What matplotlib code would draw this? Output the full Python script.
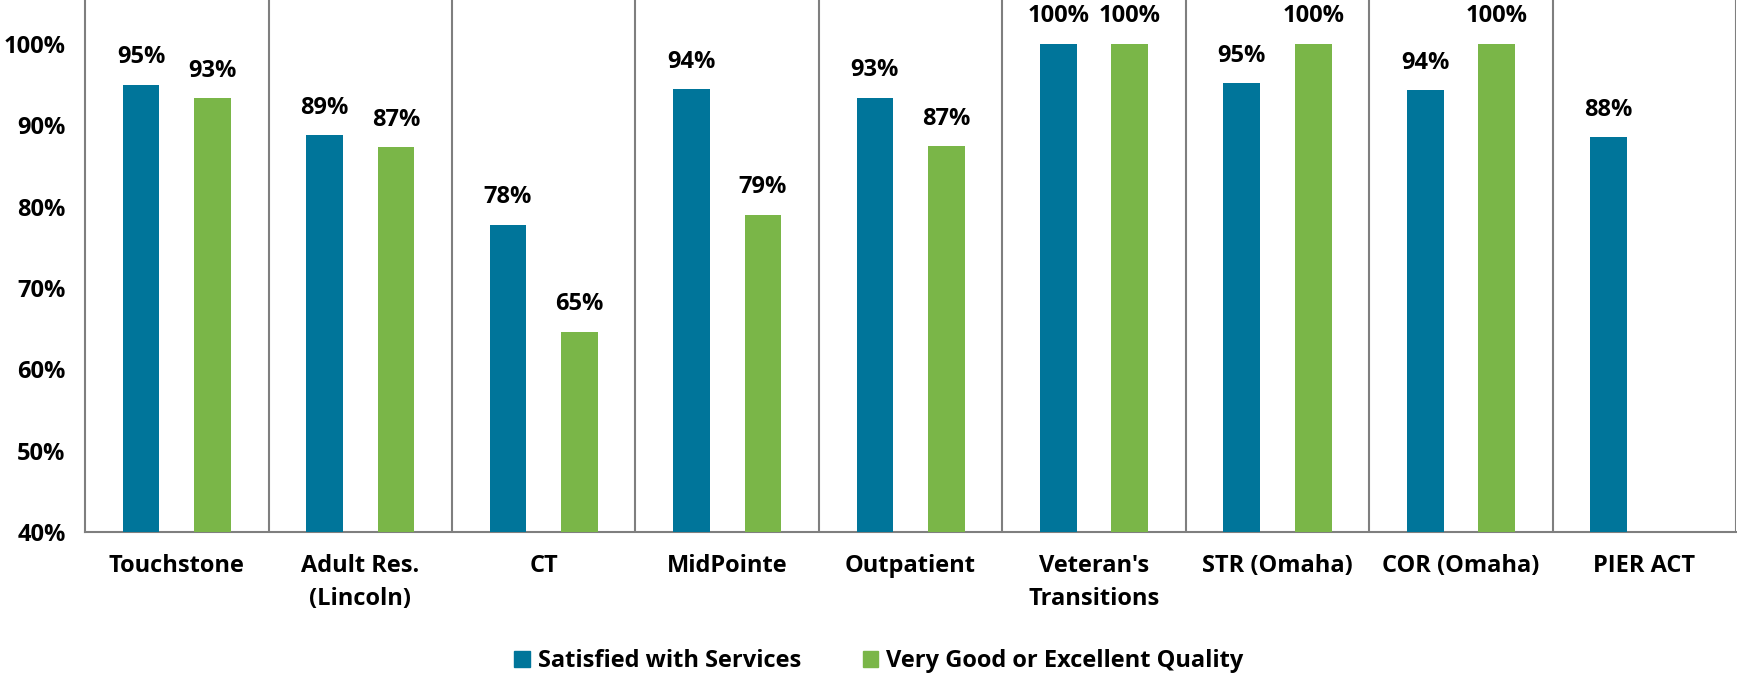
import matplotlib
matplotlib.use("Agg")
import matplotlib.pyplot as plt
import numpy as np
from matplotlib.patches import Patch

categories = ["Touchstone", "Adult Res.\n(Lincoln)", "CT", "MidPointe", "Outpatient",
              "Veteran's\nTransitions", "STR (Omaha)", "COR (Omaha)", "PIER ACT"]
satisfied = [95.0, 88.8, 77.8, 94.4, 93.4, 100.0, 95.2, 94.3, 88.5]
quality = [93.3, 87.3, 64.6, 79.0, 87.4, 100.0, 100.0, 100.0, np.nan]
series_names = ["Satisfied with Services", "Very Good or Excellent Quality"]
yticks = [40, 50, 60, 70, 80, 90, 100]

blue = "#00759A"
green = "#7AB648"
grey = "#7F7F7F"

plt.rcParams['font.family'] = ['Open Sans', 'DejaVu Sans']

fig = plt.figure(figsize=(17.37, 6.76), dpi=100)
ax = fig.add_axes([0.049, 0.213, 0.9505, 0.787])

x = np.arange(len(categories))
w = 0.2
off = 0.195
ax.bar(x - off, satisfied, width=w, color=blue, label=series_names[0], zorder=3)
qx = [xi + off for xi, q in zip(x, quality) if not np.isnan(q)]
qv = [q for q in quality if not np.isnan(q)]
ax.bar(qx, qv, width=w, color=green, label=series_names[1], zorder=3)

lab_font = dict(fontsize=17, fontweight='bold')
for xi, v in zip(x, satisfied):
    ax.text(xi - off, v + 1.9, f"{v:.0f}%", ha='center', va='bottom', **lab_font)
for xi, v in zip(qx, qv):
    ax.text(xi, v + 1.9, f"{v:.0f}%", ha='center', va='bottom', **lab_font)

ax.set_xlim(-0.5, len(categories) - 0.5)
ax.set_ylim(40, 105.4)
ax.set_yticks(yticks)
ax.set_yticklabels([f"{t}%" for t in yticks], fontsize=17, fontweight='bold')
ax.set_xticks(x)
ax.set_xticklabels(categories, fontsize=17, fontweight='bold', linespacing=1.5)
ax.tick_params(axis='y', length=0, pad=14)
ax.tick_params(axis='x', length=0, pad=16)

for s in ['top', 'right']:
    ax.spines[s].set_visible(False)
for s in ['left', 'bottom']:
    ax.spines[s].set_color(grey)
    ax.spines[s].set_linewidth(1.5)

for b in np.arange(0.5, len(categories), 1.0):
    ax.axvline(b, color=grey, lw=1.5, zorder=1)

handles = [Patch(color=blue), Patch(color=green)]
fig.legend(handles, series_names, loc='center', bbox_to_anchor=(0.506, 0.022), ncol=2,
           frameon=False, handlelength=0.65, handleheight=0.65, handletextpad=0.35,
           columnspacing=2.6, prop=dict(size=17, weight='bold'))

fig.savefig("out.png", dpi=100)
